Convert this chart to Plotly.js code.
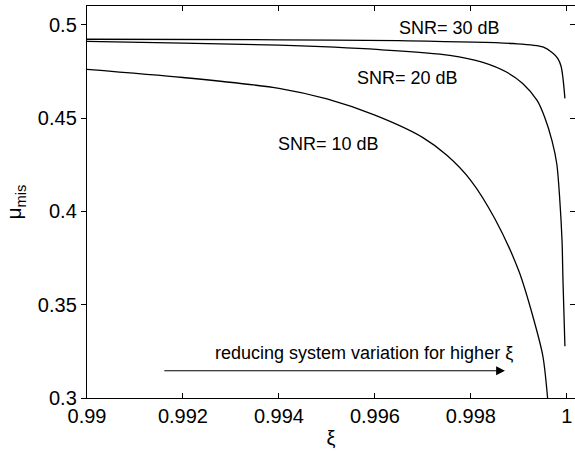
<!DOCTYPE html>
<html>
<head>
<meta charset="utf-8">
<script src="https://cdn.plot.ly/plotly-3.0.1.min.js"></script>
<style>html,body{margin:0;padding:0;background:#fff;overflow:hidden}</style>
</head>
<body>
<div id="chart" style="width:575px;height:451px"></div>
<script>
// SNR = 10 dB
const xi10 = [0.99, 0.992, 0.994, 0.995, 0.996, 0.997, 0.9975, 0.998, 0.9985, 0.999, 0.9993, 0.9995, 0.9996];
const mu10 = [0.4761, 0.4717, 0.4659, 0.4602, 0.4515, 0.4395, 0.4300, 0.4165, 0.3960, 0.3680, 0.3430, 0.3225, 0.2997];
// SNR = 20 dB
const xi20 = [0.99, 0.992, 0.994, 0.9961, 0.99756, 0.99825, 0.99875, 0.99908, 0.99938, 0.99954, 0.99969, 0.99979, 0.99985, 0.9999, 0.99992, 0.99996];
const mu20 = [0.4911, 0.4901, 0.4890, 0.4866, 0.4836, 0.4798, 0.4745, 0.4685, 0.4594, 0.4503, 0.4379, 0.4255, 0.4073, 0.3841, 0.3626, 0.3277];
// SNR = 30 dB
const xi30 = [0.99, 0.994, 0.9965, 0.99888, 0.9995, 0.99971, 0.99981, 0.99988, 0.99992, 0.99996];
const mu30 = [0.4922, 0.4919, 0.4914, 0.4899, 0.4881, 0.4847, 0.4820, 0.4777, 0.4712, 0.4605];

const xTickVals = [0.99, 0.992, 0.994, 0.996, 0.998, 1];
const xTickText = ['0.99', '0.992', '0.994', '0.996', '0.998', '1'];
const yTickVals = [0.3, 0.35, 0.4, 0.45, 0.5];
const yTickText = ['0.3', '0.35', '0.4', '0.45', '0.5'];

const labels = ['SNR= 10 dB', 'SNR= 20 dB', 'SNR= 30 dB'];
const labelX = [0.99503, 0.99668, 0.99756];
const labelY = [0.4363, 0.4712, 0.4981];
const noteText = 'reducing system variation for higher ξ';

const font = 'Liberation Sans, Arial, Helvetica, sans-serif';
const lineStyle = {color: '#000', width: 1.3, shape: 'spline', smoothing: 0.8};

const traces = [
  {x: xi10, y: mu10, mode: 'lines', line: lineStyle, hoverinfo: 'skip', showlegend: false},
  {x: xi20, y: mu20, mode: 'lines', line: lineStyle, hoverinfo: 'skip', showlegend: false},
  {x: xi30, y: mu30, mode: 'lines', line: lineStyle, hoverinfo: 'skip', showlegend: false},
  {x: [0.99], y: [0.4], yaxis: 'y2', mode: 'markers', marker: {opacity: 0}, hoverinfo: 'skip', showlegend: false}
];

const annotations = labels.map((t, i) => ({
  x: labelX[i], y: labelY[i], xref: 'x', yref: 'y', text: t, showarrow: false,
  font: {family: font, size: 18, color: '#000'}
}));
annotations.push({
  x: 0.99578, y: 0.3239, xref: 'x', yref: 'y', text: noteText, showarrow: false,
  font: {family: font, size: 18, color: '#000'}
});
annotations.push({
  x: 0.99871, y: 0.3146, ax: 0.99158, ay: 0.3146, xref: 'x', yref: 'y', axref: 'x', ayref: 'y',
  text: '', showarrow: true, arrowhead: 2, arrowsize: 1.6, arrowwidth: 1.1, arrowcolor: '#000'
});

const layout = {
  width: 575, height: 451,
  margin: {l: 87, r: 0, t: 6, b: 53},
  paper_bgcolor: '#fff', plot_bgcolor: '#fff',
  font: {family: font, size: 20, color: '#000'},
  showlegend: false,
  xaxis: {
    range: [0.99, 1.00017], tickvals: xTickVals, ticktext: xTickText,
    ticks: 'inside', ticklen: 5, tickwidth: 1, tickcolor: '#000',
    showline: true, linecolor: '#000', linewidth: 1.2, mirror: 'ticks',
    showgrid: false, zeroline: false,
    tickfont: {family: font, size: 20, color: '#000'},
    title: {text: 'ξ', font: {family: font, size: 20, color: '#000'}, standoff: 4}
  },
  yaxis: {
    range: [0.3, 0.51], tickvals: yTickVals, ticktext: yTickText,
    ticks: 'outside', ticklen: 5, tickwidth: 1, tickcolor: '#000',
    showline: true, linecolor: '#000', linewidth: 1.2,
    showgrid: false, zeroline: false,
    tickfont: {family: font, size: 20, color: '#000'},
    title: {text: 'μ<sub>mis</sub>', font: {family: font, size: 21, color: '#000'}, standoff: 10}
  },
  yaxis2: {
    range: [0.3, 0.51], tickvals: yTickVals, overlaying: 'y', side: 'right',
    ticks: 'inside', ticklen: 5, tickwidth: 1, tickcolor: '#000',
    showticklabels: false, showline: false, showgrid: false, zeroline: false
  },
  annotations: annotations
};

Plotly.newPlot('chart', traces, layout, {staticPlot: true, displayModeBar: false});
</script>
</body>
</html>
